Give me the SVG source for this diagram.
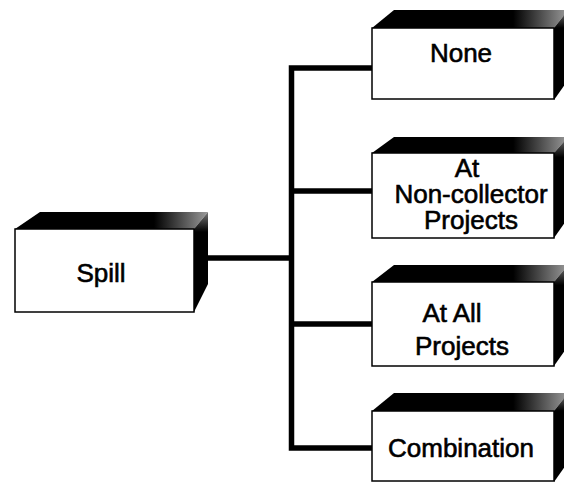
<svg xmlns="http://www.w3.org/2000/svg" width="564" height="495" viewBox="0 0 564 495">
<defs>
<linearGradient id="topL" x1="15" y1="0" x2="208" y2="0" gradientUnits="userSpaceOnUse">
<stop offset="0" stop-color="#000"/><stop offset="0.72" stop-color="#000"/><stop offset="1" stop-color="#9a9a9a"/>
</linearGradient>
<linearGradient id="topR" x1="372" y1="0" x2="568" y2="0" gradientUnits="userSpaceOnUse">
<stop offset="0" stop-color="#000"/><stop offset="0.72" stop-color="#000"/><stop offset="1" stop-color="#9a9a9a"/>
</linearGradient>
<linearGradient id="side" x1="0" y1="0" x2="0" y2="1">
<stop offset="0" stop-color="#777"/><stop offset="0.2" stop-color="#000"/><stop offset="1" stop-color="#000"/>
</linearGradient>
</defs>
<style>
.front{fill:#fff;stroke:#000;stroke-width:1.5}
.side{fill:url(#side)}
.tl{fill:url(#topL)}
.tr{fill:url(#topR)}
.conn{fill:none;stroke:#000;stroke-width:5.5;stroke-linejoin:miter}
text{font-family:"Liberation Sans",Arial,Helvetica,sans-serif;font-size:26px;fill:#000;stroke:#000;stroke-width:0.6;text-anchor:middle}
</style>
<g id="connectors">
<path class="conn" d="M372,68 H291.5 V448 H372"/>
<path class="conn" d="M291.5,191 H372"/>
<path class="conn" d="M291.5,324 H372"/>
<path class="conn" d="M207,258 H291.5"/>
</g>
<g id="spill">
<polygon class="tl" points="15,229 40,212 208,212 194,229"/>
<polygon class="side" points="194,229 208,212 208,284 194,312"/>
<rect class="front" x="15" y="229" width="179" height="83"/>
<text x="101" y="282">Spill</text>
</g>
<g id="none">
<polygon class="tr" points="372,28 394,10 568,10 554,28"/>
<polygon class="side" points="554,28 568,10 568,80 554,100"/>
<rect class="front" x="372" y="28" width="182" height="71"/>
<text x="461" y="62">None</text>
</g>
<g id="non-collector">
<polygon class="tr" points="372,153 394,137 568,137 554,153"/>
<polygon class="side" points="554,153 568,137 568,218 554,238"/>
<rect class="front" x="372" y="153" width="182" height="85"/>
<text x="467" y="177">At</text>
<text x="471" y="203">Non-collector</text>
<text x="471" y="229">Projects</text>
</g>
<g id="all-projects">
<polygon class="tr" points="372,282 394,265 568,265 554,282"/>
<polygon class="side" points="554,282 568,265 568,346 554,366"/>
<rect class="front" x="372" y="282" width="182" height="84"/>
<text x="452" y="322">At All</text>
<text x="462" y="355">Projects</text>
</g>
<g id="combination">
<polygon class="tr" points="372,411 394,393 568,393 554,411"/>
<polygon class="side" points="554,411 568,393 568,462 554,482"/>
<rect class="front" x="372" y="411" width="182" height="70"/>
<text x="461" y="457">Combination</text>
</g>
</svg>
